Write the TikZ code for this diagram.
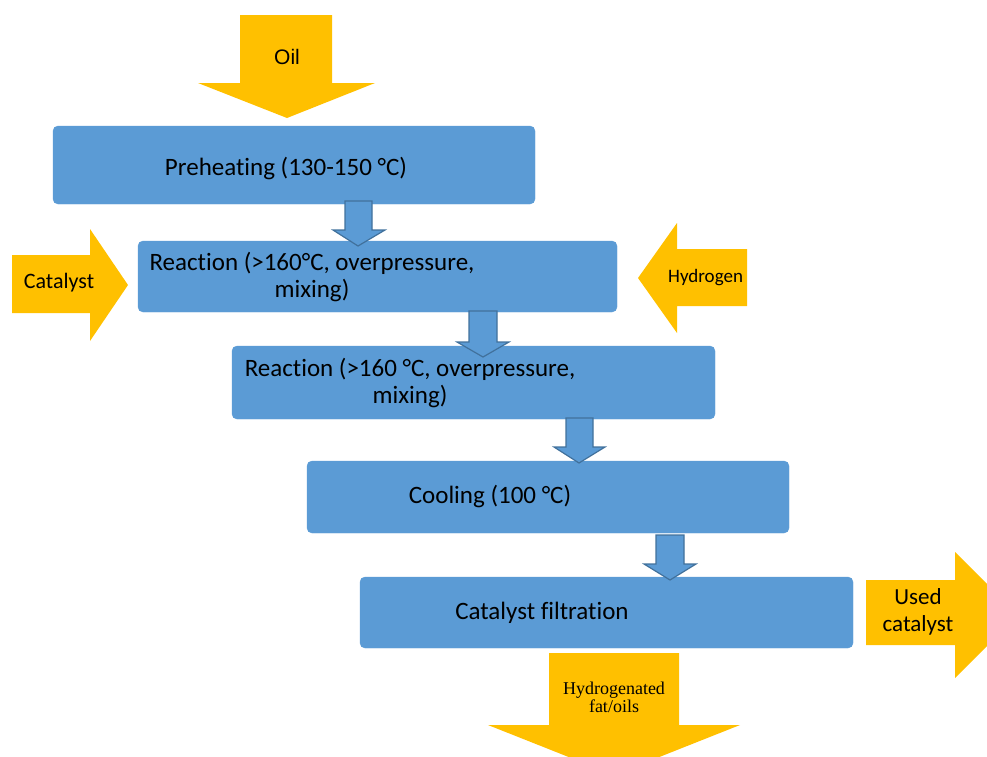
\documentclass[tikz,border=0pt]{standalone}
\usepackage{fontspec}
\setmainfont[Ligatures=NoCommon]{Carlito}
\newfontfamily\arialfont{Liberation Sans}
\newfontfamily\timesfont{Liberation Serif}
\definecolor{stepblue}{HTML}{5B9BD5}
\definecolor{stepedge}{HTML}{41719C}
\definecolor{feedorange}{HTML}{FFC000}
\tikzset{
  stepbox/.style={fill=stepblue, draw=stepblue, rounded corners=5pt},
  steptext/.style={font=\fontsize{25}{27}\selectfont, align=center, inner sep=0pt},
  feed/.style={fill=feedorange, draw=none},
  link/.style={fill=stepblue, draw=stepedge, line width=1.2pt, line join=miter}
}
\begin{document}
\begin{tikzpicture}[x=1pt, y=-1pt]
\useasboundingbox (0,0) rectangle (987,756);
\clip (0,0) rectangle (987,756);

% process steps
\draw[stepbox] (53,126) rectangle (535,204);
\draw[stepbox] (138,241) rectangle (617,312);
\draw[stepbox] (232,346) rectangle (715,419);
\draw[stepbox] (307,461) rectangle (789,533);
\draw[stepbox] (360,577) rectangle (853,648);

\node[steptext] (pre) at (286,168) {Preheating (130-150 °C)};
\node[steptext] (reactA) at (312,277) {Reaction (>160°C, overpressure,\\ mixing)};
\node[steptext] (reactB) at (410,383) {Reaction (>160 °C, overpressure,\\ mixing)};
\node[steptext] (cool) at (490,496) {Cooling (100 °C)};
\node[steptext] (filt) at (542,613) {Catalyst filtration};

% links between steps
\draw[link] (345,201) -- (372,201) -- (372,230) -- (385,230) -- (358,246) -- (333,230) -- (345,230) -- cycle;
\draw[link] (469,311) -- (497,311) -- (497,342) -- (509,342) -- (483,357) -- (457,342) -- (469,342) -- cycle;
\draw[link] (566,418) -- (593,418) -- (593,447) -- (605,447) -- (579,463) -- (554,447) -- (566,447) -- cycle;
\draw[link] (656,535) -- (684,535) -- (684,564) -- (696,564) -- (670,580) -- (644,564) -- (656,564) -- cycle;

% feed arrows
\fill[feed] (240,15) -- (332,15) -- (332,83) -- (375,83) -- (287,118) -- (198,83) -- (240,83) -- cycle;
\node[font=\arialfont\fontsize{21}{24}\selectfont, inner sep=0pt] (oil) at (287,57) {Oil};

\fill[feed] (12,255) -- (90,255) -- (90,229) -- (128,285) -- (90,341) -- (90,313) -- (12,313) -- cycle;
\node[font=\fontsize{22}{26}\selectfont, inner sep=0pt] (cat) at (59,283) {Catalyst};

\begin{scope}
\clip (600,200) rectangle (747,350);
\fill[feed] (760,249) -- (677,249) -- (677,223) -- (638,278) -- (677,333) -- (677,306) -- (760,306) -- cycle;
\node[font=\fontsize{19}{22}\selectfont, inner sep=0pt, anchor=west] (hyd) at (668,278) {Hydrogen};
\end{scope}

\fill[feed] (866,580) -- (955,580) -- (955,552) -- (1018,615) -- (955,678) -- (955,645) -- (866,645) -- cycle;
\node[font=\fontsize{23}{27}\selectfont, align=center, inner sep=0pt] (used) at (918,612) {Used\\catalyst};

\fill[feed] (549,653) -- (679,653) -- (679,725) -- (740,725) -- (614,775) -- (488,725) -- (549,725) -- cycle;
\node[font=\timesfont\fontsize{18}{18}\selectfont, align=center, inner sep=0pt] (prod) at (614,697) {Hydrogenated\\fat/oils};
\end{tikzpicture}
\end{document}
